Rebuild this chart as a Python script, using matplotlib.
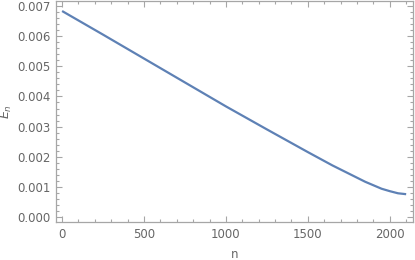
import numpy as np
import matplotlib
matplotlib.use('Agg')
import matplotlib.pyplot as plt
from matplotlib.ticker import MultipleLocator

# values
n_vals = [0, 250, 500, 750, 1000, 1250, 1500, 1650, 1750, 1850, 1950, 2000, 2050, 2100]
E_vals = [0.00682, 0.00604, 0.00525, 0.00446, 0.00367, 0.00291, 0.00216,
          0.00172, 0.00145, 0.00118, 0.00095, 0.00087, 0.00080, 0.00077]

LINE = '#5E81B5'
FRAME = '#a6a6a6'
TXT = '#666666'

fig = plt.figure(figsize=(4.15, 2.6), dpi=100)
ax = fig.add_axes([0.135, 0.146, 0.8595, 0.850])
ax.plot(n_vals, E_vals, color=LINE, lw=1.6, solid_capstyle='butt')

ax.set_xlim(-37, 2140)
ax.set_ylim(-0.00015, 0.00715)
ax.xaxis.set_major_locator(MultipleLocator(500))
ax.xaxis.set_minor_locator(MultipleLocator(100))
ax.yaxis.set_major_locator(MultipleLocator(0.001))
ax.yaxis.set_minor_locator(MultipleLocator(0.0002))
ax.yaxis.set_major_formatter(matplotlib.ticker.FormatStrFormatter('%.3f'))

for s in ax.spines.values():
    s.set_color(FRAME)
    s.set_linewidth(0.9)
ax.tick_params(which='both', direction='in', top=True, right=True,
               color=FRAME, labelcolor=TXT, labelsize=8.5, width=0.8)
ax.tick_params(which='major', length=4, pad=4)
ax.tick_params(which='minor', length=2)

ax.set_xlabel('n', color=TXT, fontsize=8.5, labelpad=5)
ax.set_ylabel('$E_n$', color=TXT, fontsize=9, labelpad=2)

fig.savefig('out.png', dpi=100)
